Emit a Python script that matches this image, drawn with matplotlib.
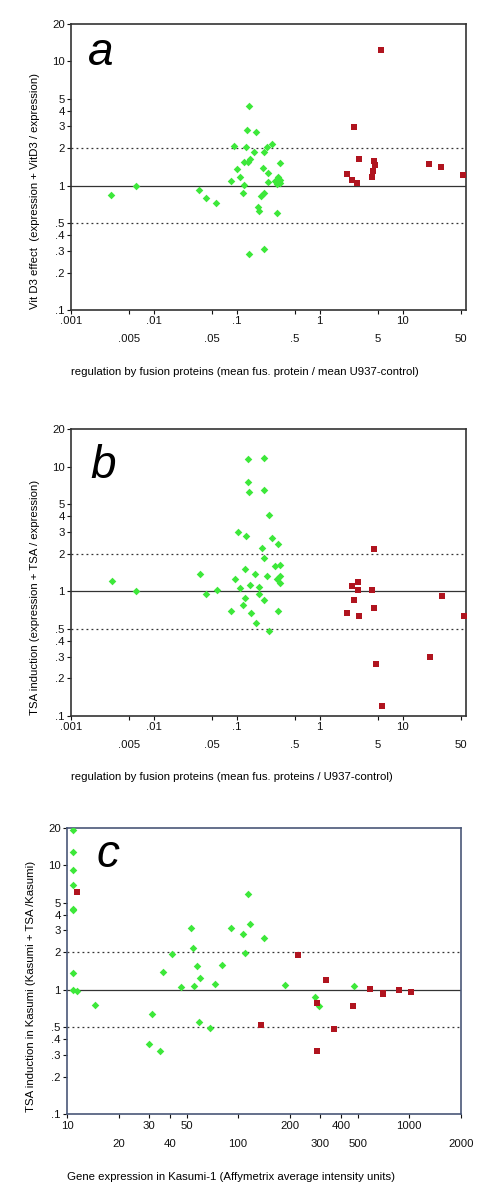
import matplotlib
matplotlib.use("Agg")
import matplotlib.pyplot as plt
from matplotlib.ticker import FixedLocator, FixedFormatter, NullLocator

plt.rcParams['font.family'] = ['Liberation Sans', 'DejaVu Sans']

# panel a: Vit D3 effect vs regulation by fusion proteins
a_green_x = [0.0030, 0.0061, 0.0353, 0.042, 0.0565, 0.084, 0.093, 0.100, 0.108, 0.117,
             0.123, 0.123, 0.128, 0.134, 0.136, 0.139, 0.141, 0.145, 0.162, 0.168,
             0.181, 0.185, 0.198, 0.205, 0.21, 0.21, 0.212, 0.234, 0.239, 0.239,
             0.262, 0.289, 0.303, 0.309, 0.312, 0.33, 0.333, 0.33]
a_green_y = [0.84, 1.0, 0.92, 0.80, 0.73, 1.10, 2.07, 1.36, 1.17, 0.87,
             1.54, 1.02, 2.05, 2.79, 1.54, 4.4, 0.28, 1.64, 1.88, 2.68,
             0.67, 0.63, 0.83, 1.40, 0.87, 0.31, 1.88, 2.03, 1.27, 1.08,
             2.15, 1.10, 1.04, 0.60, 1.18, 1.12, 1.53, 1.06]
a_red_x = [5.5, 2.58, 2.94, 4.53, 4.6, 4.37, 4.3, 2.12, 2.47, 2.82, 20.7, 29.2, 53.7]
a_red_y = [12.3, 2.98, 1.63, 1.59, 1.46, 1.31, 1.17, 1.24, 1.11, 1.05, 1.50, 1.41, 1.23]

# panel b: TSA induction vs regulation by fusion proteins
b_green_x = [0.0031, 0.0061, 0.036, 0.043, 0.0576, 0.085, 0.094, 0.102, 0.108, 0.119,
             0.125, 0.125, 0.129, 0.137, 0.137, 0.139, 0.143, 0.147, 0.164, 0.17,
             0.183, 0.184, 0.2, 0.21, 0.21, 0.213, 0.213, 0.233, 0.243, 0.243,
             0.263, 0.289, 0.303, 0.311, 0.317, 0.333, 0.335, 0.335]
b_green_y = [1.22, 1.0, 1.38, 0.96, 1.03, 0.70, 1.26, 2.99, 1.06, 0.78,
             1.52, 0.88, 2.79, 11.5, 7.5, 6.27, 1.12, 0.67, 1.38, 0.56,
             0.96, 1.08, 2.24, 11.7, 0.85, 6.5, 1.87, 1.33, 4.07, 0.48,
             2.69, 1.60, 1.25, 2.40, 0.70, 1.17, 1.62, 1.33]
b_red_x = [4.57, 2.48, 2.86, 2.86, 4.32, 2.62, 4.45, 2.15, 2.96, 29.4, 55.2, 21.1, 4.7, 5.6]
b_red_y = [2.20, 1.10, 1.20, 1.02, 1.03, 0.85, 0.74, 0.67, 0.63, 0.92, 0.64, 0.30, 0.26, 0.12]

# panel c: TSA induction in Kasumi vs gene expression
c_green_x = [10.9, 10.9, 10.9, 10.9, 10.9, 10.9, 10.9, 10.9, 11.4, 14.5,
             30.1, 31.4, 34.8, 36.5, 41.3, 46.4, 52.9, 54.6, 55.6, 57.3,
             59.0, 59.9, 68.5, 73.6, 80.1, 91.3, 107, 109, 114, 118,
             142, 188, 282, 296, 478]
c_green_y = [19.3, 12.7, 9.2, 6.9, 4.35, 4.45, 1.36, 1.0, 0.97, 0.75,
             0.37, 0.64, 0.32, 1.38, 1.95, 1.06, 3.16, 2.16, 1.07, 1.55,
             0.55, 1.24, 0.49, 1.12, 1.59, 3.13, 2.80, 1.99, 5.84, 3.35,
             2.59, 1.09, 0.88, 0.74, 1.07]
c_red_x = [11.5, 136, 223, 288, 291, 325, 364, 467, 587, 703, 705, 875, 1018]
c_red_y = [6.14, 0.52, 1.89, 0.78, 0.32, 1.2, 0.48, 0.74, 1.01, 0.92, 0.95, 1.0, 0.96]

y_ticks = [0.1, 0.2, 0.3, 0.4, 0.5, 1, 2, 3, 4, 5, 10, 20]
y_labels = ['.1', '.2', '.3', '.4', '.5', '1', '2', '3', '4', '5', '10', '20']

ab_major = [0.001, 0.01, 0.1, 1, 10]
ab_major_lab = ['.001', '.01', '.1', '1', '10']
ab_minor = [0.005, 0.05, 0.5, 5, 50]
ab_minor_lab = ['.005', '.05', '.5', '5', '50']

c_major = [10, 30, 50, 200, 400, 1000]
c_major_lab = ['10', '30', '50', '200', '400', '1000']
c_minor = [20, 40, 100, 300, 500, 2000]
c_minor_lab = ['20', '40', '100', '300', '500', '2000']

GREEN = '#3de83a'
RED = '#b0141f'
FS = 8.2

fig = plt.figure(figsize=(4.92, 11.96), dpi=100)
W, H = 492.0, 1196.0


def make_ax(left, right, top, bottom):
    return fig.add_axes([left / W, 1 - bottom / H, (right - left) / W, (bottom - top) / H])


def style(ax, xlim, major, major_lab, minor, minor_lab, spine_col):
    ax.set_xscale('log')
    ax.set_yscale('log')
    ax.set_xlim(*xlim)
    ax.set_ylim(0.1, 20)
    ax.yaxis.set_major_locator(FixedLocator(y_ticks))
    ax.yaxis.set_major_formatter(FixedFormatter(y_labels))
    ax.yaxis.set_minor_locator(NullLocator())
    ax.xaxis.set_major_locator(FixedLocator(major))
    ax.xaxis.set_major_formatter(FixedFormatter(major_lab))
    ax.xaxis.set_minor_locator(FixedLocator(minor))
    ax.xaxis.set_minor_formatter(FixedFormatter(minor_lab))
    ax.tick_params(axis='both', which='both', direction='out', length=3, width=0.8,
                   labelsize=FS, colors='#111111')
    ax.tick_params(axis='x', which='major', pad=1.5)
    ax.tick_params(axis='x', which='minor', pad=14.5)
    ax.tick_params(axis='y', pad=1.5)
    for s in ax.spines.values():
        s.set_color(spine_col)
        s.set_linewidth(1.2)
    ax.axhline(1, color='#333333', lw=0.9, zorder=1)
    ax.axhline(2, color='#333333', lw=0.9, ls=(0, (1.5, 2.5)), zorder=1)
    ax.axhline(0.5, color='#333333', lw=0.9, ls=(0, (1.5, 2.5)), zorder=1)


def dots(ax, gx, gy, rx, ry):
    ax.scatter(gx, gy, marker='D', s=15, color=GREEN, linewidths=0, zorder=3)
    ax.scatter(rx, ry, marker='s', s=15, color=RED, linewidths=0, zorder=3)


# a
ax1 = make_ax(71, 466, 24, 310)
style(ax1, (0.001, 58), ab_major, ab_major_lab, ab_minor, ab_minor_lab, '#333333')
dots(ax1, a_green_x, a_green_y, a_red_x, a_red_y)
ax1.text(0.043, 0.857, 'a', transform=ax1.transAxes, fontsize=33, style='italic',
         ha='left', va='baseline')
fig.text(35 / W, 1 - 191 / H, 'Vit D3 effect  (expression + VitD3 / expression)',
         rotation=90, ha='center', va='center', fontsize=FS)
fig.text(71 / W, 1 - 372 / H,
         'regulation by fusion proteins (mean fus. protein / mean U937-control)',
         ha='left', va='center', fontsize=FS)

# b
ax2 = make_ax(71, 466, 429.3, 716)
style(ax2, (0.001, 58), ab_major, ab_major_lab, ab_minor, ab_minor_lab, '#333333')
dots(ax2, b_green_x, b_green_y, b_red_x, b_red_y)
ax2.text(0.048, 0.83, 'b', transform=ax2.transAxes, fontsize=33, style='italic',
         ha='left', va='baseline')
fig.text(35 / W, 1 - 597 / H, 'TSA induction (expression + TSA / expression)',
         rotation=90, ha='center', va='center', fontsize=FS)
fig.text(71 / W, 1 - 777 / H,
         'regulation by fusion proteins (mean fus. proteins / U937-control)',
         ha='left', va='center', fontsize=FS)

# c
ax3 = make_ax(67, 460.7, 827.7, 1114.3)
style(ax3, (10, 2000), c_major, c_major_lab, c_minor, c_minor_lab, '#4a5878')
dots(ax3, c_green_x, c_green_y, c_red_x, c_red_y)
ax3.text(0.076, 0.863, 'c', transform=ax3.transAxes, fontsize=33, style='italic',
         ha='left', va='baseline')
fig.text(31 / W, 1 - 986 / H, 'TSA induction in Kasumi (Kasumi + TSA /Kasumi)',
         rotation=90, ha='center', va='center', fontsize=FS)
fig.text(67 / W, 1 - 1177 / H,
         'Gene expression in Kasumi-1 (Affymetrix average intensity units)',
         ha='left', va='center', fontsize=FS)

fig.savefig('out.png', dpi=100, facecolor='white')
